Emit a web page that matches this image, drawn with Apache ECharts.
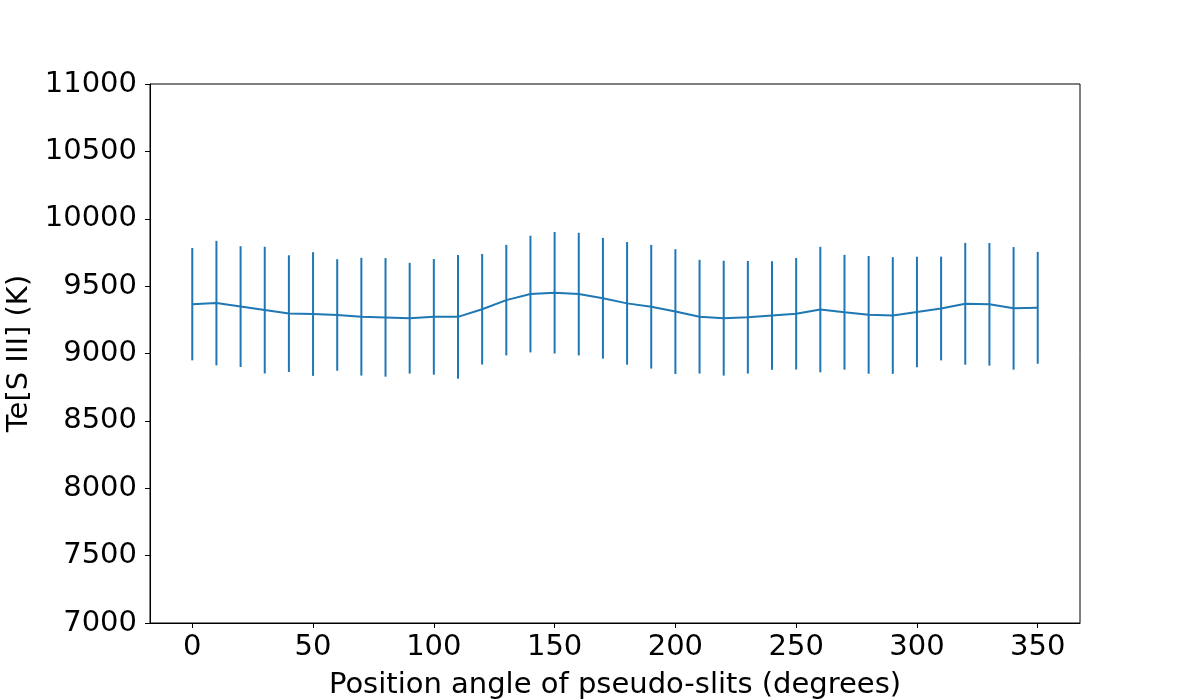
<!DOCTYPE html>
<html>
<head>
<meta charset="utf-8">
<script src="https://cdn.jsdelivr.net/npm/echarts@6/dist/echarts.min.js"></script>
<style>html,body{margin:0;padding:0;background:#fff;}#c{width:1200px;height:700px;}</style>
</head>
<body>
<div id="c"></div>
<script>
const angles = [0,10,20,30,40,50,60,70,80,90,100,110,120,130,140,150,160,170,180,190,200,210,220,230,240,250,260,270,280,290,300,310,320,330,340,350];
const te = [9366,9374,9348,9322,9296,9293,9286,9273,9268,9262,9272,9272,9328,9396,9441,9451,9441,9410,9372,9347,9311,9273,9262,9269,9282,9295,9326,9306,9287,9282,9308,9334,9369,9365,9335,9339];
const teErr = [417,462,448,470,433,459,414,437,440,411,429,459,410,410,433,451,455,448,455,459,463,422,426,418,403,414,466,426,437,433,410,385,452,455,455,415];
const xTicks = [0,50,100,150,200,250,300,350];
const yTicks = [7000,7500,8000,8500,9000,9500,10000,10500,11000];

const color = '#1f77b4';
const font = 'DejaVu Sans';
const fs = 29;
const lineData = angles.map((a,i)=>[a, te[i]]);
const errData = angles.map((a,i)=>[a, te[i]-teErr[i], te[i]+teErr[i]]);

const chart = echarts.init(document.getElementById('c'));
chart.setOption({
  animation: false,
  grid: {left:150, right:120, top:84, bottom:77, outerBoundsMode:'none', containLabel:false, show:true, borderColor:'#000', borderWidth:1, backgroundColor:'transparent'},
  xAxis: {
    type:'value', min:-17.5, max:367.5,
    name:'Position angle of pseudo-slits (degrees)', nameLocation:'middle', nameGap:48,
    nameTextStyle:{fontFamily:font, fontSize:fs, color:'#000'},
    axisLine:{show:true, onZero:false, lineStyle:{color:'#000', width:1}},
    axisTick:{show:true, inside:false, length:5, customValues:xTicks, lineStyle:{color:'#000'}},
    axisLabel:{fontFamily:font, fontSize:fs, color:'#000', margin:10, customValues:xTicks},
    splitLine:{show:false}
  },
  yAxis: {
    type:'value', min:7000, max:11000, interval:500,
    name:'Te[S III] (K)', nameLocation:'middle', nameGap:112, nameRotate:90,
    nameTextStyle:{fontFamily:font, fontSize:fs, color:'#000'},
    axisLine:{show:true, onZero:false, lineStyle:{color:'#000', width:1}},
    axisTick:{show:true, length:5, lineStyle:{color:'#000'}},
    axisLabel:{fontFamily:font, fontSize:fs, color:'#000', margin:13, formatter:function(v){return String(v);}},
    splitLine:{show:false}
  },
  series: [
    {
      type:'line', data:lineData, symbol:'none',
      lineStyle:{color:color, width:2}, z:3
    },
    {
      type:'custom', data:errData,
      renderItem:function(params, api){
        const x = api.value(0);
        const p1 = api.coord([x, api.value(1)]);
        const p2 = api.coord([x, api.value(2)]);
        return {type:'line', shape:{x1:p1[0], y1:p1[1], x2:p2[0], y2:p2[1]}, style:{stroke:color, lineWidth:2}};
      },
      z:2
    }
  ]
});
</script>
</body>
</html>
